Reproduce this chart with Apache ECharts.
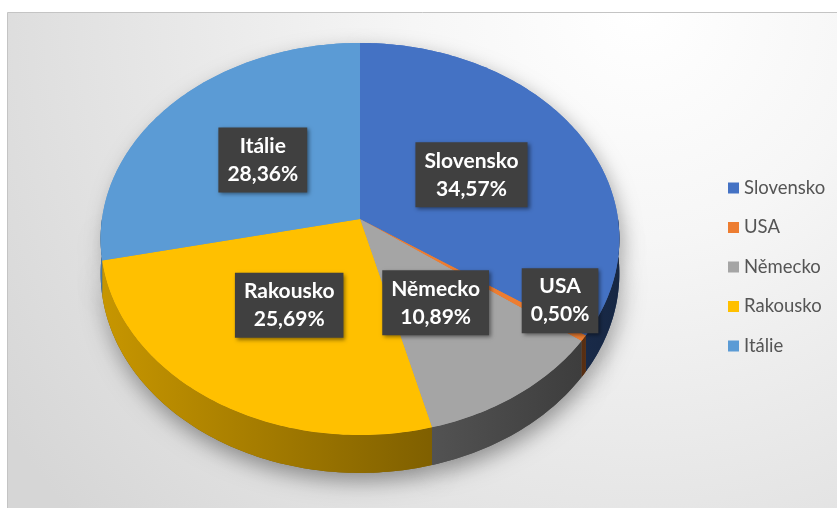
<!DOCTYPE html>
<html>
<head>
<meta charset="utf-8">
<script src="https://cdn.jsdelivr.net/npm/echarts@6/dist/echarts.min.js"></script>
<style>
  html, body { margin: 0; padding: 0; background: #fff; }
  #chart { width: 837px; height: 508px; }
</style>
</head>
<body>
<div id="chart"></div>
<script>
var countries = ['Slovensko', 'USA', 'Německo', 'Rakousko', 'Itálie'];
var shares = [34.57, 0.50, 10.89, 25.69, 28.36];
var colors = ['#4472C4', '#ED7D31', '#A5A5A5', '#FFC000', '#5B9BD5'];

var chart = echarts.init(document.getElementById('chart'));

var total = shares.reduce(function (a, b) { return a + b; }, 0);
var starts = [];
var acc = 0;
shares.forEach(function (v) { starts.push(acc); acc += v; });

// tilted disk seen in perspective
var CX = 360, CY = 219, RX = 258, KY = 194, P = 0.102, DEPTH = 34;

function proj(t, f) {
  var u = f * Math.sin(t), v = f * Math.cos(t), d = 1 + P * v;
  return [CX + RX * u / d, CY - KY * v / d, d];
}
function arc(t1, t2, f) {
  var n = Math.max(2, Math.ceil((t2 - t1) / (Math.PI / 180)));
  var pts = [];
  for (var i = 0; i <= n; i++) pts.push(proj(t1 + (t2 - t1) * i / n, f));
  return pts;
}
function shade(hex, k) {
  var n = parseInt(hex.slice(1), 16);
  return 'rgb(' + Math.round(((n >> 16) & 255) * k) + ',' +
    Math.round(((n >> 8) & 255) * k) + ',' + Math.round((n & 255) * k) + ')';
}
function pct(v) { return v.toFixed(2).replace('.', ',') + '%'; }

function renderSlice(params, api) {
  var start = api.value(0), val = api.value(1);
  var idx = params.seriesIndex;
  var color = colors[idx];
  var t1 = start / total * 2 * Math.PI;
  var t2 = (start + val) / total * 2 * Math.PI;
  var children = [];

  var top = [[CX, CY]].concat(arc(t1, t2, 1).map(function (p) { return [p[0], p[1]]; }));
  children.push({ type: 'polygon', z2: 0, shape: { points: top },
    style: { fill: color, shadowBlur: 18, shadowColor: 'rgba(0,0,0,0.3)', shadowOffsetX: 4, shadowOffsetY: 6 } });

  // outer wall, only the front half shows
  var w1 = Math.max(t1, Math.PI / 2), w2 = Math.min(t2, 1.5 * Math.PI);
  if (w2 > w1) {
    var up = arc(w1, w2, 1);
    var wall = up.map(function (p) { return [p[0], p[1]]; });
    for (var i = up.length - 1; i >= 0; i--) wall.push([up[i][0], up[i][1] + DEPTH / up[i][2]]);
    children.push({ type: 'polygon', z2: 0, shape: { points: wall },
      style: { fill: shade(color, 0.5), shadowBlur: 22, shadowColor: 'rgba(0,0,0,0.4)', shadowOffsetX: 2, shadowOffsetY: 8 } });
    children.push({ type: 'polygon', z2: 5, shape: { points: wall },
      style: { fill: new echarts.graphic.LinearGradient(CX - RX, 0, CX + RX, 0, [
        { offset: 0, color: shade(color, 0.78) },
        { offset: 1, color: shade(color, 0.34) }
      ], true) } });
  }
  children.push({ type: 'polygon', z2: 10, shape: { points: top }, style: { fill: color } });

  var small = val / total < 0.02;
  var lp = proj((t1 + t2) / 2, small ? 0.9 : 0.5);
  children.push({
    type: 'text', z2: 20, x: lp[0], y: lp[1] + (small ? -25 : 0),
    style: {
      text: countries[idx] + '\n' + pct(val),
      fill: '#ffffff', fontFamily: 'Lato', fontWeight: 'bold', fontSize: 21,
      align: 'center', verticalAlign: 'middle', lineHeight: 28,
      backgroundColor: '#404040', padding: [5, 9, 4, 9],
      shadowBlur: 4, shadowColor: 'rgba(0,0,0,0.45)', shadowOffsetX: 2, shadowOffsetY: 2
    }
  });
  return { type: 'group', children: children };
}

var option = {
  animation: false,
  graphic: [{
    type: 'rect', z: 0, silent: true,
    shape: { x: 7.5, y: 12.5, width: 840, height: 500 },
    style: {
      fill: new echarts.graphic.RadialGradient(640, 10, 760, [
        { offset: 0, color: '#ffffff' },
        { offset: 0.3, color: '#f6f6f6' },
        { offset: 1, color: '#d6d6d6' }
      ], true),
      stroke: '#c4c4c4', lineWidth: 1
    }
  }],
  legend: {
    orient: 'vertical',
    left: 723,
    top: 173,
    icon: 'rect',
    itemWidth: 11,
    itemHeight: 11,
    itemGap: 19.5,
    data: countries,
    textStyle: { fontFamily: 'Lato', fontSize: 18.5, color: '#555555', lineHeight: 20 }
  },
  series: countries.map(function (name, i) {
    return {
      type: 'custom',
      name: name,
      coordinateSystem: 'none',
      silent: true,
      itemStyle: { color: colors[i] },
      renderItem: renderSlice,
      data: [[starts[i], shares[i]]]
    };
  })
};

chart.setOption(option);
</script>
</body>
</html>
